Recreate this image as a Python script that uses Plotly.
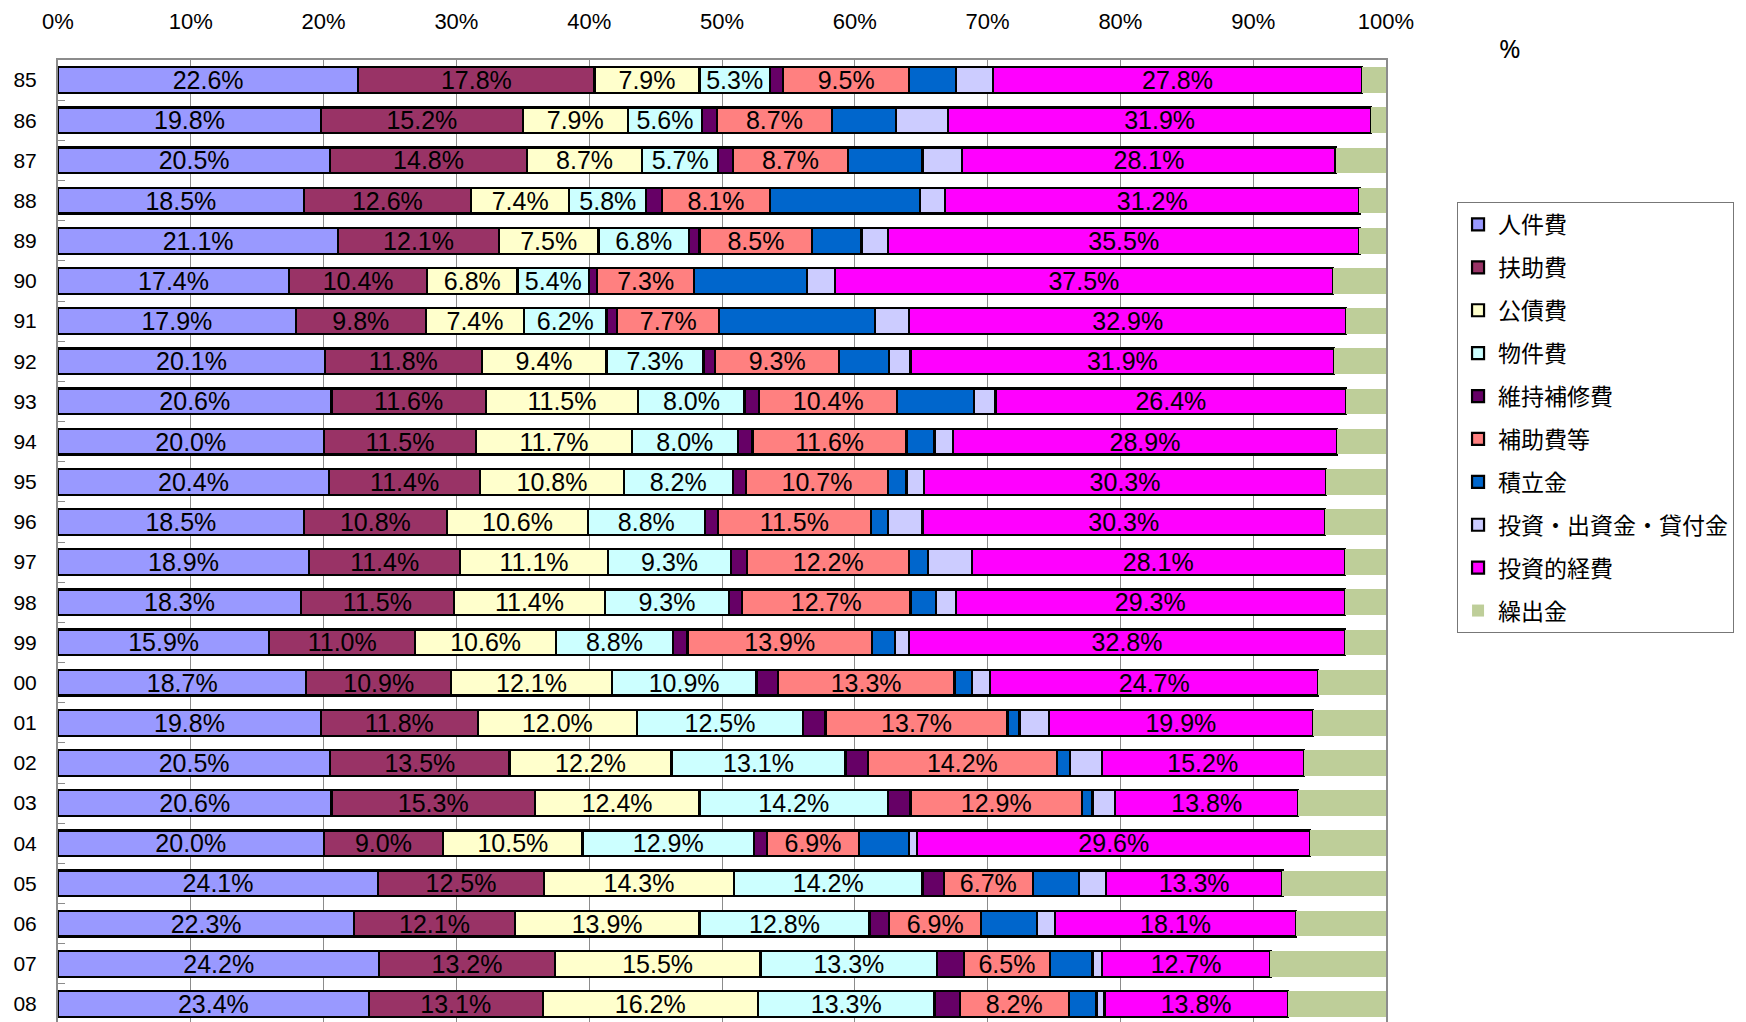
import plotly.graph_objects as go

years = ["85", "86", "87", "88", "89", "90", "91", "92", "93", "94", "95", "96",
         "97", "98", "99", "00", "01", "02", "03", "04", "05", "06", "07", "08"]

jinkenhi = [22.6, 19.8, 20.5, 18.5, 21.1, 17.4, 17.9, 20.1, 20.6, 20.0, 20.4, 18.5,
            18.9, 18.3, 15.9, 18.7, 19.8, 20.5, 20.6, 20.0, 24.1, 22.3, 24.2, 23.4]
fujohi = [17.8, 15.2, 14.8, 12.6, 12.1, 10.4, 9.8, 11.8, 11.6, 11.5, 11.4, 10.8,
          11.4, 11.5, 11.0, 10.9, 11.8, 13.5, 15.3, 9.0, 12.5, 12.1, 13.2, 13.1]
kosaihi = [7.9, 7.9, 8.7, 7.4, 7.5, 6.8, 7.4, 9.4, 11.5, 11.7, 10.8, 10.6,
           11.1, 11.4, 10.6, 12.1, 12.0, 12.2, 12.4, 10.5, 14.3, 13.9, 15.5, 16.2]
bukkenhi = [5.3, 5.6, 5.7, 5.8, 6.8, 5.4, 6.2, 7.3, 8.0, 8.0, 8.2, 8.8,
            9.3, 9.3, 8.8, 10.9, 12.5, 13.1, 14.2, 12.9, 14.2, 12.8, 13.3, 13.3]
ijihoshu = [1.0, 1.1, 1.1, 1.2, 0.8, 0.6, 0.8, 0.9, 1.1, 1.1, 1.0, 1.0,
            1.2, 1.0, 1.1, 1.6, 1.7, 1.7, 1.7, 1.0, 1.6, 1.5, 2.0, 1.9]
hojohi = [9.5, 8.7, 8.7, 8.1, 8.5, 7.3, 7.7, 9.3, 10.4, 11.6, 10.7, 11.5,
          12.2, 12.7, 13.9, 13.3, 13.7, 14.2, 12.9, 6.9, 6.7, 6.9, 6.5, 8.2]
tsumitate = [3.5, 4.8, 5.6, 11.3, 3.7, 8.5, 11.7, 3.8, 5.8, 2.1, 1.4, 1.3,
             1.4, 1.9, 1.7, 1.3, 0.9, 1.0, 0.8, 3.8, 3.5, 4.2, 3.2, 2.1]
toushi_kashi = [2.8, 3.9, 3.0, 1.9, 2.0, 2.1, 2.6, 1.6, 1.6, 1.4, 1.3, 2.6,
                3.3, 1.5, 1.1, 1.4, 2.2, 2.4, 1.7, 0.6, 2.0, 1.4, 0.7, 0.6]
toushiteki = [27.8, 31.9, 28.1, 31.2, 35.5, 37.5, 32.9, 31.9, 26.4, 28.9, 30.3, 30.3,
              28.1, 29.3, 32.8, 24.7, 19.9, 15.2, 13.8, 29.6, 13.3, 18.1, 12.7, 13.8]
kuridashi = [1.8, 1.1, 3.8, 2.0, 2.0, 4.0, 3.0, 3.9, 3.0, 3.7, 4.5, 4.6,
             3.1, 3.1, 3.1, 5.1, 5.5, 6.2, 6.6, 5.7, 7.8, 6.8, 8.7, 7.4]

x_ticks = [0, 10, 20, 30, 40, 50, 60, 70, 80, 90, 100]
x_tick_labels = ["0%", "10%", "20%", "30%", "40%", "50%", "60%", "70%", "80%", "90%", "100%"]

series = [
    ("人件費", jinkenhi, "#9999FF", True, True),
    ("扶助費", fujohi, "#993366", True, True),
    ("公債費", kosaihi, "#FFFFCC", True, True),
    ("物件費", bukkenhi, "#CCFFFF", True, True),
    ("維持補修費", ijihoshu, "#660066", False, True),
    ("補助費等", hojohi, "#FF8080", True, True),
    ("積立金", tsumitate, "#0066CC", False, True),
    ("投資・出資金・貸付金", toushi_kashi, "#CCCCFF", False, True),
    ("投資的経費", toushiteki, "#FF00FF", True, True),
    ("繰出金", kuridashi, "#BECE99", False, False),
]

NUMF = "Liberation Sans, Arial, sans-serif"
JP = "Noto Sans CJK JP, sans-serif"

fig = go.Figure()
for name, vals, color, labeled, outlined in series:
    fig.add_trace(go.Bar(
        name=name,
        y=years,
        x=vals,
        orientation="h",
        legendgroup=name,
        marker=dict(color=color,
                    line=dict(color="black", width=2.2 if outlined else 0)),
        texttemplate="%{x:.1f}%" if labeled else None,
        textposition="inside" if labeled else "none",
        insidetextanchor="middle",
        textangle=0,
        insidetextfont=dict(family=NUMF, size=25, color="black"),
        hoverinfo="skip",
    ))

# the page body has an 8px margin: the layout is shifted by -8px to compensate
fig.update_layout(
    width=1746,
    height=1022,
    barmode="stack",
    bargap=0.36,
    plot_bgcolor="white",
    paper_bgcolor="white",
    margin=dict(l=50, r=368, t=52, b=6, autoexpand=False),
    uniformtext=dict(minsize=25, mode="show"),
    legend=dict(
        x=1.0535, y=0.8527, xanchor="left", yanchor="top",
        font=dict(family=JP, size=23, color="black"),
        bgcolor="white", bordercolor="#777777", borderwidth=1,
        tracegroupgap=10,
        traceorder="grouped",
        itemwidth=30,
    ),
    showlegend=True,
)

fig.update_xaxes(
    side="top",
    range=[0, 100],
    tickvals=x_ticks,
    ticktext=x_tick_labels,
    tickfont=dict(family=NUMF, size=22, color="black"),
    showgrid=True,
    gridcolor="#8c8c8c",
    gridwidth=1,
    showline=True,
    linecolor="#8c8c8c",
    linewidth=2,
    mirror=True,
    ticks="",
    ticklabelstandoff=20,
    zeroline=False,
    automargin=False,
)

fig.update_yaxes(
    type="category",
    range=[23.5, -0.5],
    tickfont=dict(family=NUMF, size=21, color="black"),
    showgrid=False,
    showline=True,
    linecolor="#8c8c8c",
    linewidth=2,
    mirror=True,
    ticks="inside",
    tickson="boundaries",
    ticklen=7,
    tickcolor="#8c8c8c",
    ticklabelstandoff=15,
    automargin=False,
)

fig.add_annotation(
    text="%", x=1.0934, y=1.0124, xref="paper", yref="paper",
    showarrow=False, font=dict(family="Noto Sans, sans-serif", size=26, color="black"),
    xanchor="center", yanchor="middle",
)

fig.write_html("out.html")
